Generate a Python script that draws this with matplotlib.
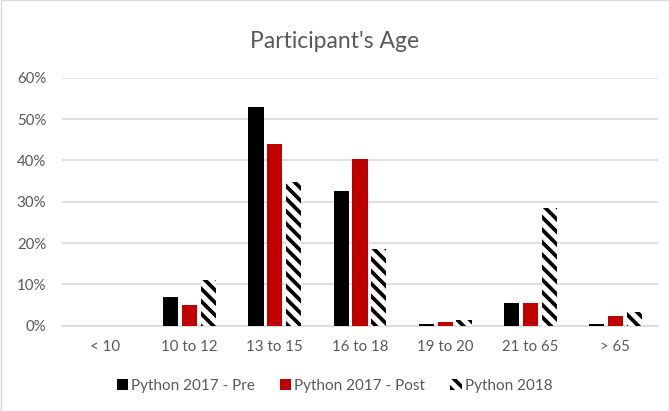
import numpy as np
import matplotlib
matplotlib.use("Agg")
import matplotlib.pyplot as plt
from matplotlib.patches import Rectangle
from matplotlib.ticker import PercentFormatter

plt.rcParams['font.family'] = ['Lato', 'DejaVu Sans']
plt.rcParams['hatch.linewidth'] = 1.8

categories = ['< 10', '10 to 12', '13 to 15', '16 to 18', '19 to 20', '21 to 65', '> 65']
pre_2017 = [0.0, 6.9, 52.9, 32.6, 0.5, 5.5, 0.5]
post_2017 = [0.0, 5.0, 43.9, 40.3, 1.0, 5.5, 2.3]
py_2018 = [0.0, 11.1, 34.8, 18.6, 1.4, 28.5, 3.2]
series_names = ['Python 2017 - Pre', 'Python 2017 - Post', 'Python 2018']

DPI = 150
BS = chr(92)  # backslash hatch
fig = plt.figure(figsize=(669 / DPI, 411 / DPI), dpi=DPI)
ax = fig.add_axes([62 / 669, 1 - 325.7 / 411, (658 - 62) / 669, (325.7 - 77.7) / 411])

x = np.arange(len(categories))
w = 0.178
step = 0.222
ax.bar(x - step, pre_2017, w, color='black', label=series_names[0], zorder=3)
ax.bar(x, post_2017, w, color='#c00000', label=series_names[1], zorder=3)
ax.bar(x + step, py_2018, w, facecolor='white', edgecolor='black', linewidth=0,
       hatch=BS * 4, label=series_names[2], zorder=3)

ax.set_xlim(-0.5, len(categories) - 0.5)
ax.set_ylim(0, 60)
ax.set_yticks(np.arange(0, 61, 10))
ax.yaxis.set_major_formatter(PercentFormatter(decimals=0))
ax.set_xticks(x)
ax.set_xticklabels(categories)
ax.grid(axis='y', color='#d9d9d9', linewidth=0.8, zorder=0)
for s in ['top', 'right', 'left']:
    ax.spines[s].set_visible(False)
ax.spines['bottom'].set_color('#d9d9d9')
ax.spines['bottom'].set_linewidth(0.8)
ax.tick_params(length=0, labelsize=7.2, colors='#595959', pad=6.7)
ax.tick_params(axis='y', pad=7.6)

fig.text(0.5, 1 - 41 / 411, "Participant's Age", ha='center', va='center',
         fontsize=11.0, color='#595959')

leg = ax.legend(loc='center', bbox_to_anchor=(0.5, 1 - 386 / 411), bbox_transform=fig.transFigure,
                ncol=3, frameon=False, fontsize=7.3, handlelength=0.75, handleheight=0.75,
                handletextpad=0.2, columnspacing=1.65, borderpad=0)
for t in leg.get_texts():
    t.set_color('#595959')

fig.patches.append(Rectangle((0.5 / 669, 0.5 / 411), 1 - 1 / 669, 1 - 1 / 411, transform=fig.transFigure,
                             fill=False, edgecolor='#d9d9d9', linewidth=0.7))

fig.savefig('out.png', dpi=DPI)
